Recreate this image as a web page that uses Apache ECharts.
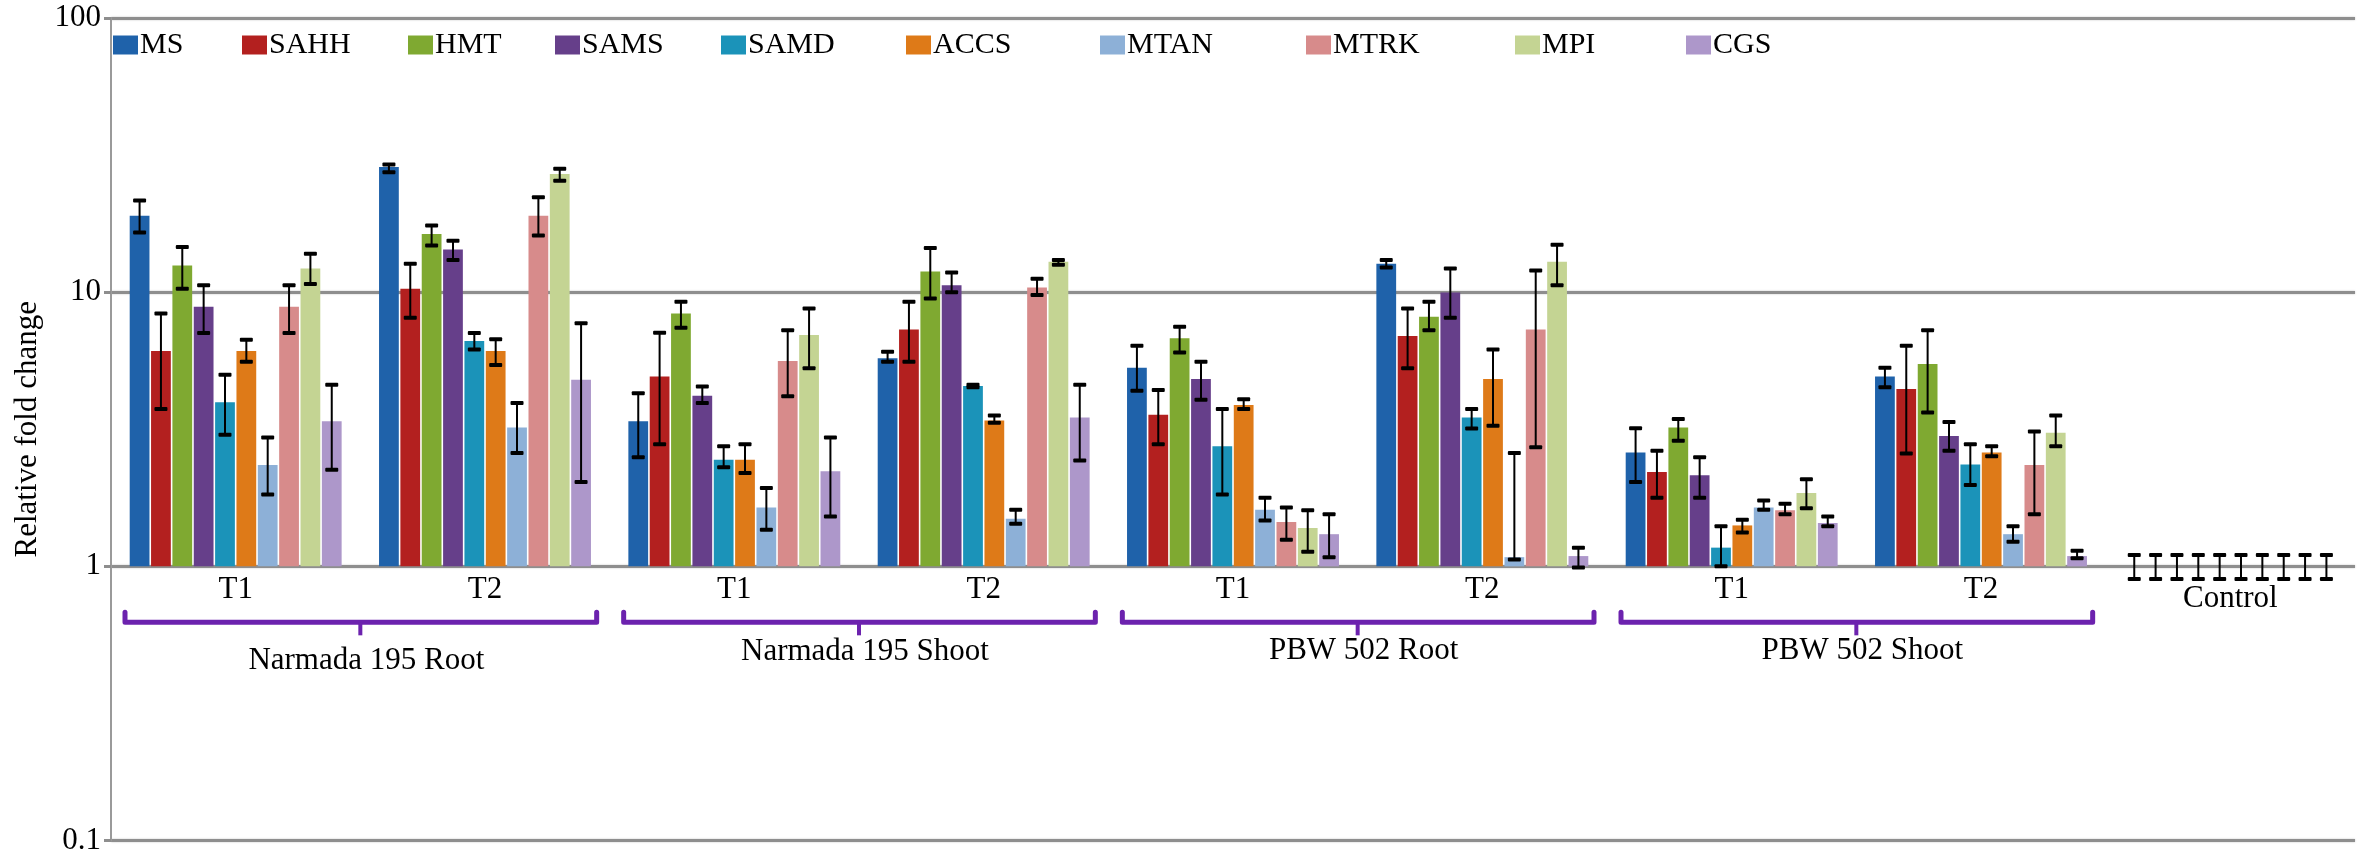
<!DOCTYPE html>
<html><head><meta charset="utf-8">
<script src="https://cdn.jsdelivr.net/npm/echarts@6/dist/echarts.min.js"></script>
<style>html,body{margin:0;padding:0;background:#fff}#c{width:2358px;height:856px}</style>
</head><body><div id="c"></div>
<script>
// ---------- DATA ----------
const categories = ['T1','T2','T1','T2','T1','T2','T1','T2','Control'];
const groups = ['Narmada 195 Root','Narmada 195 Shoot','PBW 502 Root','PBW 502 Shoot'];
const genes = ['MS','SAHH','HMT','SAMS','SAMD','ACCS','MTAN','MTRK','MPI','CGS'];
const yTicks = [0.1, 1, 10, 100];

const MS_mean   = [19.0, 28.6, 3.38, 5.74, 5.30, 12.7, 2.60, 4.92, 1];
const MS_hi     = [21.6, 29.2, 4.28, 6.06, 6.38, 13.1, 3.19, 5.30, 1.1];
const MS_lo     = [16.5, 27.4, 2.50, 5.58, 4.37, 12.3, 2.03, 4.50, 0.9];
const SAHH_mean = [6.10, 10.3, 4.92, 7.31, 3.57, 6.92, 2.21, 4.43, 1];
const SAHH_hi   = [8.36, 12.7, 7.11, 9.22, 4.40, 8.72, 2.64, 6.38, 1.1];
const SAHH_lo   = [3.75, 8.07, 2.79, 5.58, 2.79, 5.28, 1.78, 2.58, 0.9];
const HMT_mean  = [12.5, 16.3, 8.36, 11.9, 6.79, 8.13, 3.21, 5.47, 1];
const HMT_hi    = [14.6, 17.5, 9.22, 14.5, 7.48, 9.22, 3.45, 7.27, 1.1];
const HMT_lo    = [10.3, 14.8, 7.42, 9.48, 6.03, 7.27, 2.87, 3.64, 0.9];
const SAMS_mean = [8.85, 14.3, 4.19, 10.6, 4.82, 9.97, 2.15, 2.99, 1];
const SAMS_hi   = [10.6, 15.4, 4.53, 11.8, 5.58, 12.2, 2.50, 3.36, 1.1];
const SAMS_lo   = [7.10, 13.1, 3.94, 10.0, 4.05, 8.07, 1.78, 2.64, 0.9];
const SAMD_mean = [3.97, 6.63, 2.45, 4.55, 2.74, 3.49, 1.17, 2.35, 1];
const SAMD_hi   = [5.00, 7.10, 2.74, 4.60, 3.75, 3.75, 1.40, 2.79, 1.1];
const SAMD_lo   = [3.02, 6.18, 2.30, 4.50, 1.83, 3.18, 1.00, 1.98, 0.9];
const ACCS_mean = [6.10, 6.10, 2.45, 3.40, 3.88, 4.82, 1.41, 2.60, 1];
const ACCS_hi   = [6.70, 6.73, 2.79, 3.55, 4.07, 6.18, 1.48, 2.74, 1.1];
const ACCS_lo   = [5.58, 5.43, 2.19, 3.34, 3.75, 3.26, 1.33, 2.52, 0.9];
const MTAN_mean = [2.34, 3.21, 1.64, 1.49, 1.61, 1.08, 1.64, 1.31, 1];
const MTAN_hi   = [2.95, 3.94, 1.93, 1.61, 1.78, 2.59, 1.74, 1.40, 1.1];
const MTAN_lo   = [1.83, 2.59, 1.36, 1.43, 1.47, 1.06, 1.61, 1.23, 0.9];
const MTRK_mean = [8.85, 19.0, 5.61, 10.4, 1.45, 7.31, 1.60, 2.34, 1];
const MTRK_hi   = [10.6, 22.2, 7.27, 11.2, 1.64, 12.0, 1.69, 3.10, 1.1];
const MTRK_lo   = [7.10, 16.1, 4.17, 9.77, 1.25, 2.72, 1.55, 1.55, 0.9];
const MPI_mean  = [12.2, 27.0, 6.98, 12.9, 1.38, 12.9, 1.85, 3.07, 1];
const MPI_hi    = [13.8, 28.2, 8.72, 13.1, 1.60, 14.9, 2.08, 3.55, 1.1];
const MPI_lo    = [10.7, 25.5, 5.28, 12.6, 1.13, 10.6, 1.63, 2.74, 0.9];
const CGS_mean  = [3.38, 4.79, 2.22, 3.49, 1.31, 1.09, 1.44, 1.09, 1];
const CGS_hi    = [4.60, 7.70, 2.95, 4.60, 1.55, 1.17, 1.52, 1.14, 1.1];
const CGS_lo    = [2.25, 2.03, 1.52, 2.43, 1.08, 0.99, 1.40, 1.07, 0.9];

const means = [MS_mean, SAHH_mean, HMT_mean, SAMS_mean, SAMD_mean, ACCS_mean, MTAN_mean, MTRK_mean, MPI_mean, CGS_mean];
const highs = [MS_hi, SAHH_hi, HMT_hi, SAMS_hi, SAMD_hi, ACCS_hi, MTAN_hi, MTRK_hi, MPI_hi, CGS_hi];
const lows  = [MS_lo, SAHH_lo, HMT_lo, SAMS_lo, SAMD_lo, ACCS_lo, MTAN_lo, MTRK_lo, MPI_lo, CGS_lo];

// ---------- STYLE ----------
const colors = ['#1F62AA','#B3201F','#7FA931','#663F8A','#1B93B9','#DE7A18','#8DB0D7','#D78B8B','#C4D493','#AD97CA'];
const legendLeft = [113, 242, 408, 555, 721, 906, 1100, 1306, 1515, 1686];
const FONT = '"Liberation Serif", "Times New Roman", serif';
const CAT_GAP = 0.15, BAR_GAP = 0.08;
const BRACE = '#6C22AE';
const groupLabelDy = [95, 86, 85, 85];

const N = genes.length;
function barX(api, ci, gi) {
  const p = api.coord([ci, 1]);
  const band = api.size([1, 1], [ci, 1])[0];
  const groupW = band * (1 - CAT_GAP);
  const w = groupW / (N + (N - 1) * BAR_GAP);
  return p[0] - groupW / 2 + gi * w * (1 + BAR_GAP) + w / 2;
}

const series = [];
genes.forEach((g, gi) => {
  series.push({
    type: 'bar', name: g, data: means[gi],
    barGap: (BAR_GAP * 100) + '%', barCategoryGap: (CAT_GAP * 100) + '%',
    itemStyle: { color: colors[gi] }, z: 2, silent: true
  });
});
genes.forEach((g, gi) => {
  series.push({
    type: 'custom', name: g + '-err', z: 4, silent: true,
    data: categories.map((c, i) => [i, lows[gi][i], highs[gi][i]]),
    encode: { x: 0, y: [1, 2] },
    renderItem: function (params, api) {
      const ci = api.value(0);
      const x = barX(api, ci, gi);
      const y1 = api.coord([ci, api.value(1)])[1];
      const y2 = api.coord([ci, api.value(2)])[1];
      const cw = 13, ch = 4;
      return { type: 'group', children: [
        { type: 'line', shape: { x1: x, y1: y1, x2: x, y2: y2 }, style: { stroke: '#000', lineWidth: 2 } },
        { type: 'rect', shape: { x: x - cw / 2, y: y1 - ch / 2, width: cw, height: ch, r: 1 }, style: { fill: '#000' } },
        { type: 'rect', shape: { x: x - cw / 2, y: y2 - ch / 2, width: cw, height: ch, r: 1 }, style: { fill: '#000' } }
      ]};
    }
  });
});
// category labels
series.push({
  type: 'custom', name: 'catLabels', silent: true, z: 5,
  data: categories.map((c, i) => [i, 1]),
  encode: { x: 0, y: 1 },
  renderItem: function (params, api) {
    const i = params.dataIndex;
    const p = api.coord([api.value(0), 1]);
    const dy = categories[i] === 'Control' ? 33 : 24;
    return { type: 'text', x: p[0], y: p[1] + dy,
      style: { text: categories[i], fontFamily: FONT, fontSize: 31, fill: '#000', align: 'center', verticalAlign: 'middle' } };
  }
});
// group braces + labels
series.push({
  type: 'custom', name: 'braces', silent: true, z: 5,
  data: groups.map((g, i) => [2 * i, 1]),
  encode: { x: 0, y: 1 },
  renderItem: function (params, api) {
    const gi = params.dataIndex;
    const pa = api.coord([2 * gi, 1]);
    const pb = api.coord([2 * gi + 1, 1]);
    const band = api.size([1, 1], [2 * gi, 1])[0];
    const xl = pa[0] - band / 2 + 14, xr = pb[0] + band / 2 - 13, xc = (pa[0] + pb[0]) / 2;
    const y0 = pa[1];
    return { type: 'group', children: [
      { type: 'polyline', shape: { points: [[xl, y0 + 46], [xl, y0 + 56], [xr, y0 + 56], [xr, y0 + 46]] },
        style: { stroke: BRACE, lineWidth: 5, fill: null, lineJoin: 'round', lineCap: 'round' } },
      { type: 'line', shape: { x1: xc, y1: y0 + 56, x2: xc, y2: y0 + 69 }, style: { stroke: BRACE, lineWidth: 4 } },
      { type: 'text', x: xc + 6, y: y0 + groupLabelDy[gi],
        style: { text: groups[gi], fontFamily: FONT, fontSize: 31, fill: '#000', align: 'center', verticalAlign: 'middle' } }
    ]};
  }
});

const legends = genes.map((g, i) => ({
  data: [g], left: legendLeft[i], top: 30, padding: 0, itemGap: 0,
  itemWidth: 25, itemHeight: 19, icon: 'rect', selectedMode: false,
  textStyle: { fontFamily: FONT, fontSize: 30, color: '#000', padding: [2, 0, 0, -3] }
}));

const option = {
  backgroundColor: '#fff',
  animation: false,
  color: colors,
  legend: legends,
  grid: { left: 111, right: 3, top: 18, bottom: 15, containLabel: false },
  xAxis: {
    type: 'category', data: categories, boundaryGap: true,
    axisLine: { show: false }, axisTick: { show: false }, axisLabel: { show: false }, splitLine: { show: false }
  },
  yAxis: {
    type: 'log', logBase: 10, min: 0.1, max: 100,
    name: 'Relative fold change', nameLocation: 'middle', nameGap: 58,
    nameTextStyle: { fontFamily: FONT, fontSize: 31, color: '#000' },
    axisLine: { show: true, lineStyle: { color: '#9a9a9a', width: 2 } },
    axisTick: { show: true, length: 7, lineStyle: { color: '#8e8e8e', width: 3 } },
    axisLabel: {
      fontFamily: FONT, fontSize: 31, color: '#000', margin: 10,
      formatter: function (v) {
        const t = yTicks.find(x => Math.abs(Math.log10(x) - Math.log10(v)) < 1e-6);
        return t !== undefined ? String(t) : '';
      }
    },
    splitLine: { show: true, lineStyle: { color: '#8e8e8e', width: 3, shadowColor: 'rgba(0,0,0,0.25)', shadowBlur: 2 } }
  },
  series: series
};
const chart = echarts.init(document.getElementById('c'));
chart.setOption(option);
</script>
</body></html>
